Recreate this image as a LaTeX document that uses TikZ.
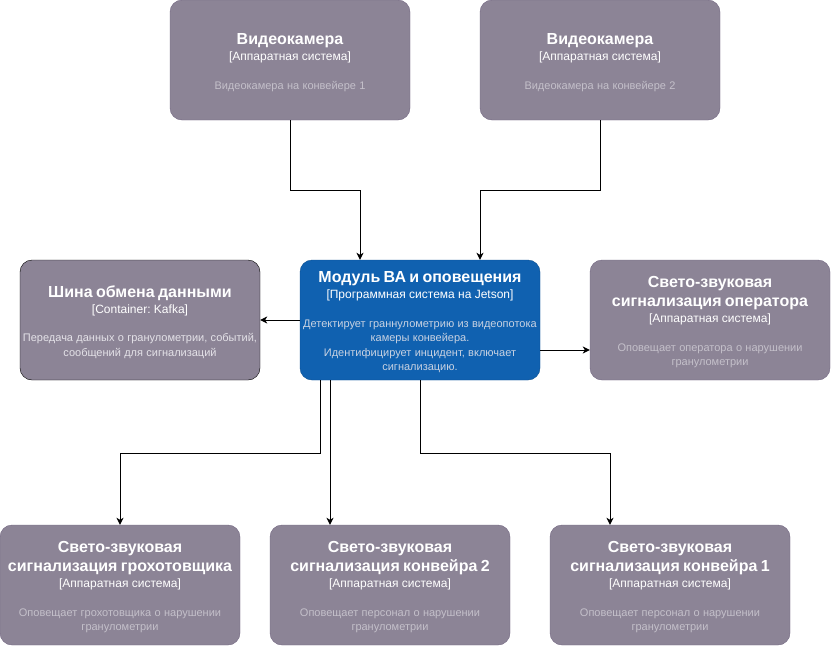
\documentclass[tikz,border=0pt]{standalone}
\usepackage{fontspec}
\setmainfont{Liberation Sans}
\usepackage{xcolor}
\usetikzlibrary{arrows.meta, positioning, calc}
\definecolor{extgray}{HTML}{8C8496}
\definecolor{extgraydark}{HTML}{736782}
\definecolor{sysblue}{HTML}{1061B0}
\definecolor{sysbluedark}{HTML}{0D5091}
\definecolor{descgray}{HTML}{C4C0CA}
\definecolor{descblue}{HTML}{C8D2E2}
\definecolor{descbus}{HTML}{E4E2E8}
\frenchspacing

% title / type / description inside one box
\newcommand{\sysbox}[4][descgray]{%
  {\fontsize{16}{19}\selectfont\bfseries\rule{0pt}{16pt}#2\par}%
  {\fontsize{12}{16}\selectfont #3\par}%
  \vspace{14pt}%
  {\fontsize{11}{14.5}\selectfont\color{#1} #4\par}}

\begin{document}
\begin{tikzpicture}[
    x=1pt, y=-1pt,
    system/.style={rectangle, minimum width=240pt,
                   minimum height=120pt, inner sep=0pt, text width=238pt,
                   align=center, rounded corners=12pt, text=white},
    external/.style={system, draw=extgraydark, fill=extgray},
    module/.style={system, draw=sysbluedark, fill=sysblue},
    bus/.style={system, draw=black, fill=extgray},
    arrow/.style={-{Stealth[length=7pt, width=7pt, inset=2pt]}, line width=1pt}
]
\useasboundingbox (0,0) rectangle (831,646);

% Systems
\node[external] at (290,60) (cam1) {\sysbox{Видеокамера}{[Аппаратная система]}{Видеокамера на конвейере 1}};
\node[external] at (600,60) (cam2) {\sysbox{Видеокамера}{[Аппаратная система]}{Видеокамера на конвейере 2}};

\node[bus] at (140,320) (bus) {\sysbox[descbus]{Шина обмена данными}{[Container: Kafka]}{Передача данных о гранулометрии, событий,\\сообщений для сигнализаций}};
\node[module] at (420,320) (module) {\sysbox[descblue]{Модуль ВА и оповещения}{[Программная система на Jetson]}{Детектирует граннулометрию из видеопотока\\камеры конвейера.\\Идентифицирует инцидент, включает\\сигнализацию.}};
\node[external] at (710,320) (oper) {\sysbox{Свето-звуковая\\сигнализация оператора}{[Аппаратная система]}{Оповещает оператора о нарушении\\гранулометрии}};

\node[external] at (120,585) (sig1) {\sysbox{Свето-звуковая\\сигнализация грохотовщика}{[Аппаратная система]}{Оповещает грохотовщика о нарушении\\гранулометрии}};
\node[external] at (390,585) (sig2) {\sysbox{Свето-звуковая\\сигнализация конвейра 2}{[Аппаратная система]}{Оповещает персонал о нарушении\\гранулометрии}};
\node[external] at (670,585) (sig3) {\sysbox{Свето-звуковая\\сигнализация конвейра 1}{[Аппаратная система]}{Оповещает персонал о нарушении\\гранулометрии}};

% Arrows
\draw[arrow] (cam1.south) -- ++(0,70) -| ([xshift=-60pt]module.north);
\draw[arrow] (cam2.south) -- ++(0,70) -| ([xshift=60pt]module.north);
\draw[arrow] (module.west) -- (bus.east);
\draw[arrow] ([yshift=-30pt]module.east) -- ([yshift=-30pt]oper.west);
\draw[arrow] ([xshift=-100pt]module.south) -- ++(0,73) -| (sig1.north);
\draw[arrow] ([xshift=-90pt]module.south) -- ([xshift=-60pt]sig2.north);
\draw[arrow] (module.south) -- ++(0,73) -| ([xshift=-60pt]sig3.north);

\end{tikzpicture}
\end{document}
